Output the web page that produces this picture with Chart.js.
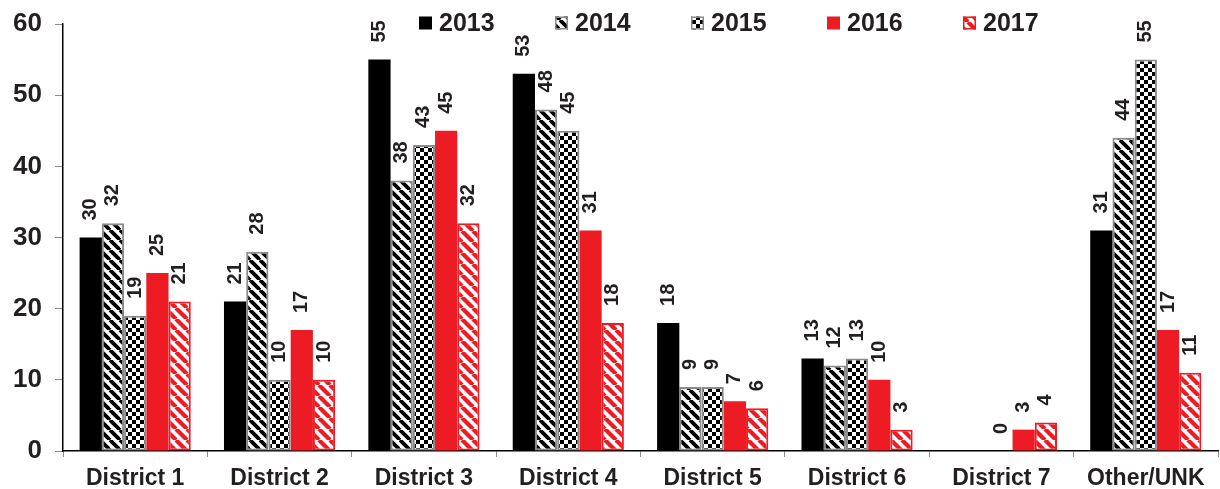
<!DOCTYPE html>
<html>
<head>
<meta charset="utf-8">
<script src="https://cdn.jsdelivr.net/npm/chart.js@4"></script>
<style>
  html, body { margin: 0; padding: 0; background: #fff; }
  #wrap { width: 1220px; height: 489px; }
</style>
</head>
<body>
<div id="wrap"><canvas id="chart"></canvas></div>
<script>
const districts = ['District 1', 'District 2', 'District 3', 'District 4', 'District 5', 'District 6', 'District 7', 'Other/UNK']
const years = ['2013', '2014', '2015', '2016', '2017']

const counts2013 = [30, 21, 55, 53, 18, 13, null, 31]
const counts2014 = [32, 28, 38, 48, 9, 12, null, 44]
const counts2015 = [19, 10, 43, 45, 9, 13, 0, 55]
const counts2016 = [25, 17, 45, 31, 7, 10, 3, 17]
const counts2017 = [21, 10, 32, 18, 6, 3, 4, 11]

const yTicks = [0, 10, 20, 30, 40, 50, 60]

const textColor = '#231f20'
const red = '#ed1c24'
const grey = '#8a8a8a'
const fontFamily = '"Liberation Sans", Arial, sans-serif'

// diagonal stripes running top-left to bottom-right
const stripePattern = (fg, bg, size, width) => {
  const c = document.createElement('canvas')
  c.width = size
  c.height = size
  const g = c.getContext('2d')
  g.fillStyle = bg
  g.fillRect(0, 0, size, size)
  g.strokeStyle = fg
  g.lineWidth = width
  for (let k = -1; k <= 1; k++) {
    g.beginPath()
    g.moveTo(k * size, 0)
    g.lineTo(k * size + size, size)
    g.stroke()
  }
  return g.createPattern(c, 'repeat')
}

const checkerPattern = (cell) => {
  const c = document.createElement('canvas')
  c.width = cell * 2
  c.height = cell * 2
  const g = c.getContext('2d')
  g.fillStyle = '#fff'
  g.fillRect(0, 0, cell * 2, cell * 2)
  g.fillStyle = '#000'
  g.fillRect(0, 0, cell, cell)
  g.fillRect(cell, cell, cell, cell)
  return g.createPattern(c, 'repeat')
}

const fills = ['#000', stripePattern('#000', '#fff', 10, 3.8), checkerPattern(4), red, stripePattern(red, '#fff', 11, 4.2)]
const borders = ['#000', grey, grey, red, red]
const borderWidths = [0, 2, 2, 0, 2]
const seriesData = [counts2013, counts2014, counts2015, counts2016, counts2017]

const datasets = years.map((year, i) => ({
  label: year,
  data: seriesData[i],
  backgroundColor: fills[i],
  borderColor: borders[i],
  borderWidth: (c) => (c.raw ? borderWidths[i] : 0),
  borderSkipped: false,
  barPercentage: 1.0,
  categoryPercentage: 0.77
}))

// rotated value labels above each bar
const valueLabels = {
  id: 'valueLabels',
  afterDatasetsDraw (chart) {
    const ctx = chart.ctx
    ctx.save()
    ctx.fillStyle = textColor
    ctx.font = 'bold 20px ' + fontFamily
    ctx.textAlign = 'left'
    ctx.textBaseline = 'middle'
    chart.data.datasets.forEach((ds, i) => {
      const meta = chart.getDatasetMeta(i)
      meta.data.forEach((bar, j) => {
        const v = ds.data[j]
        if (v === null || v === undefined) return
        ctx.save()
        ctx.translate(bar.x, bar.y - 17)
        ctx.rotate(-Math.PI / 2)
        ctx.fillText(String(v), 0, 0)
        ctx.restore()
      })
    })
    ctx.restore()
  }
}

// legend row drawn inside the plot area
const legendRow = {
  id: 'legendRow',
  afterDraw (chart) {
    const ctx = chart.ctx
    const startX = 419
    const step = 136
    const midY = 23
    const box = 13
    ctx.save()
    ctx.font = 'bold 25px ' + fontFamily
    ctx.textBaseline = 'middle'
    ctx.textAlign = 'left'
    years.forEach((year, i) => {
      const x = startX + i * step
      ctx.fillStyle = fills[i]
      ctx.fillRect(x, midY - box / 2, box, box)
      if (borderWidths[i]) {
        ctx.strokeStyle = borders[i]
        ctx.lineWidth = 1.5
        ctx.strokeRect(x + 0.75, midY - box / 2 + 0.75, box - 1.5, box - 1.5)
      }
      ctx.fillStyle = textColor
      ctx.fillText(year, x + 20, midY + 1)
    })
    ctx.restore()
  }
}

new Chart(document.getElementById('chart'), {
  type: 'bar',
  data: { labels: districts, datasets },
  options: {
    responsive: true,
    maintainAspectRatio: false,
    animation: false,
    layout: { padding: { top: 24, right: 2, left: 0, bottom: 0 } },
    plugins: {
      legend: { display: false },
      tooltip: { enabled: false }
    },
    scales: {
      x: {
        grid: { offset: true, drawOnChartArea: false, tickLength: 6, color: grey },
        border: { color: '#000', width: 1.5 },
        ticks: {
          color: textColor,
          font: { family: fontFamily, size: 23, weight: 'bold' },
          padding: 8,
          maxRotation: 0,
          autoSkip: false
        },
        afterFit: (scale) => { scale.height = 38 }
      },
      y: {
        min: yTicks[0],
        max: yTicks[yTicks.length - 1],
        afterBuildTicks: (scale) => { scale.ticks = yTicks.map(v => ({ value: v })) },
        grid: { drawOnChartArea: false, tickLength: 8, color: grey },
        border: { color: '#000', width: 1.5 },
        ticks: {
          color: textColor,
          font: { family: fontFamily, size: 26, weight: 'bold' },
          padding: 13
        },
        afterFit: (scale) => {
          scale.width = 63
          scale.paddingTop = 0
          scale.paddingBottom = 0
        }
      }
    }
  },
  plugins: [valueLabels, legendRow]
})
</script>
</body>
</html>
